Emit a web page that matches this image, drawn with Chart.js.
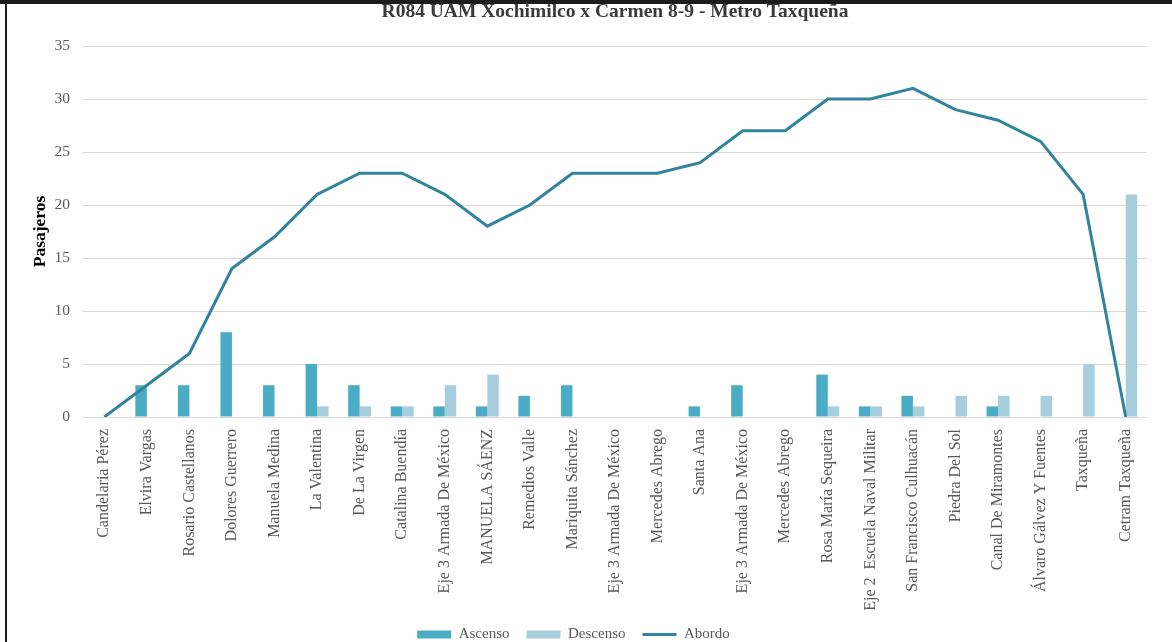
<!DOCTYPE html>
<html>
<head>
<meta charset="utf-8">
<script src="https://cdn.jsdelivr.net/npm/chart.js@4"></script>
<style>
  body { margin: 0; background: #fff; overflow: hidden; }
  #wrap { position: relative; width: 1172px; height: 642px; overflow: hidden; }
  #frame { position: absolute; left: 0; top: 0; width: 1172px; height: 642px; pointer-events: none; }
  #frame .top { position: absolute; left: 0; top: 0; width: 1172px; height: 4px; background: #1c1c1c; }
  #frame .left { position: absolute; left: 5px; top: 0; width: 2px; height: 642px; background: #1c1c1c; }
  canvas { position: absolute; left: 0; top: 0; }
</style>
</head>
<body>
<div id="wrap">
  <canvas id="route_canvas" width="1172" height="652"></canvas>
  <div id="frame"><div class="top"></div><div class="left"></div></div>
</div>
<script>
// paradas de la ruta
var stops = [
    'Candelaria Pérez',
    'Elvira Vargas',
    'Rosario Castellanos',
    'Dolores Guerrero',
    'Manuela Medina',
    'La Valentina',
    'De La Virgen',
    'Catalina Buendía',
    'Eje 3 Armada De México',
    'MANUELA SÁENZ',
    'Remedios Valle',
    'Mariquita Sánchez',
    'Eje 3 Armada De México',
    'Mercedes Abrego',
    'Santa Ana',
    'Eje 3 Armada De México',
    'Mercedes Abrego',
    'Rosa María Sequeira',
    'Eje 2  Escuela Naval Militar',
    'San Francisco Culhuacán',
    'Piedra Del Sol',
    'Canal De Miramontes',
    'Álvaro Gálvez Y Fuentes',
    'Taxqueña',
    'Cetram Taxqueña'
];
var ascenso  = [0, 3, 3, 8, 3, 5, 3, 1, 1, 1, 2, 3, 0, 0, 1, 3, 0, 4, 1, 2, 0, 1, 0, 0, 0];
var descenso = [0, 0, 0, 0, 0, 1, 1, 1, 3, 4, 0, 0, 0, 0, 0, 0, 0, 1, 1, 1, 2, 2, 2, 5, 21];
var abordo   = [0, 3, 6, 14, 17, 21, 23, 23, 21, 18, 20, 23, 23, 23, 24, 27, 27, 30, 30, 31, 29, 28, 26, 21, 0];
var yTicks   = [0, 5, 10, 15, 20, 25, 30, 35];

var serif = "'Liberation Serif', 'Times New Roman', serif";
var grey = '#595959';

function createGraphic() {
    const routeCanvas = document.getElementById('route_canvas');
    const chart = new Chart(routeCanvas, {
        type: 'bar',
        data: {
            labels: stops,
            datasets: [{
                label: 'Ascenso',
                data: ascenso,
                backgroundColor: '#4BACC6',
                order: 1
            }, {
                label: 'Descenso',
                data: descenso,
                backgroundColor: '#A6CEDC',
                order: 1
            }, {
                type: 'line',
                label: 'Abordo',
                data: abordo,
                borderColor: '#31849B',
                backgroundColor: '#31849B',
                borderWidth: 3,
                pointRadius: 0,
                tension: 0,
                order: 0
            }]
        },
        options: {
            responsive: false,
            animation: false,
            categoryPercentage: 0.54,
            barPercentage: 1,
            layout: { padding: { left: 0, right: 25, top: 0, bottom: 0 } },
            plugins: {
                tooltip: { enabled: false },
                title: {
                    display: true,
                    fullSize: false,
                    text: 'R084 UAM Xochimilco x Carmen 8-9 - Metro Taxqueña',
                    color: '#3a3a3a',
                    font: { family: serif, size: 19.5, weight: 'bold' },
                    padding: { top: 0, bottom: 22.6 }
                },
                legend: {
                    position: 'bottom',
                    labels: {
                        usePointStyle: true,
                        boxHeight: 8,
                        pointStyleWidth: 34,
                        color: grey,
                        font: { family: serif, size: 15 },
                        padding: 17,
                        generateLabels: function(c) {
                            return c.data.datasets.map(function(ds, i) {
                                var isLine = ds.type === 'line';
                                return {
                                    text: ds.label,
                                    fillStyle: ds.backgroundColor,
                                    strokeStyle: isLine ? ds.borderColor : ds.backgroundColor,
                                    lineWidth: isLine ? 3 : 0,
                                    pointStyle: isLine ? 'line' : 'rect',
                                    fontColor: grey,
                                    hidden: false,
                                    datasetIndex: i
                                };
                            });
                        }
                    }
                }
            },
            scales: {
                x: {
                    grid: { display: false },
                    border: { display: false },
                    ticks: {
                        autoSkip: false,
                        minRotation: 90,
                        maxRotation: 90,
                        padding: 4,
                        color: grey,
                        font: { family: serif, size: 16 }
                    },
                    afterFit: function(scale) { scale.height = 193; }
                },
                y: {
                    min: 0,
                    max: 35,
                    afterBuildTicks: function(scale) {
                        scale.ticks = yTicks.map(function(v) { return { value: v }; });
                    },
                    grid: { color: '#D9D9D9', lineWidth: 1, drawTicks: false },
                    border: { display: false },
                    ticks: {
                        padding: 13,
                        color: grey,
                        font: { family: serif, size: 15.5 }
                    },
                    title: {
                        display: true,
                        text: 'Pasajeros',
                        color: '#000',
                        font: { family: serif, size: 17.5, weight: 'bold' },
                        padding: { top: 29.5, bottom: 0 }
                    },
                    afterFit: function(scale) { scale.width = 83; }
                }
            }
        }
    });
}

createGraphic();
</script>
</body>
</html>
